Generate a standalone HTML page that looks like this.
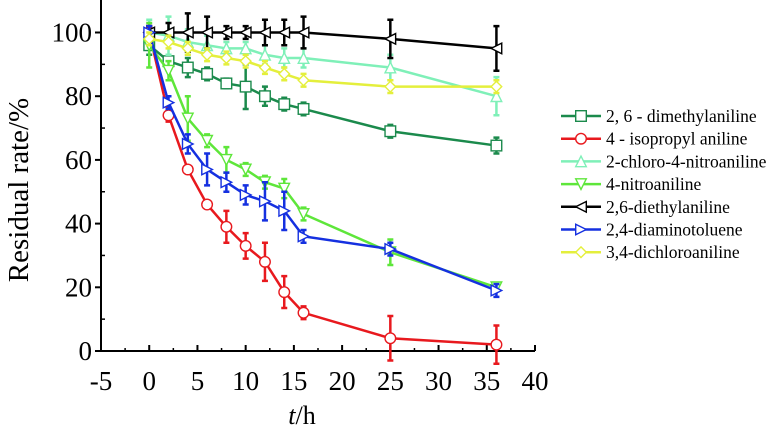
<!DOCTYPE html>
<html><head><meta charset="utf-8"><style>
html,body{margin:0;padding:0;background:#fff;}
svg text{font-family:"Liberation Serif",serif;}
</style></head><body>
<svg id="chart" width="771" height="431" viewBox="0 0 771 431" xmlns="http://www.w3.org/2000/svg">
<g id="axes"></g>
<g id="series"></g>
<g id="legend"></g>
<text transform="translate(28,190) rotate(-90)" text-anchor="middle" font-size="29">Residual rate/%</text>
<text x="302" y="424" text-anchor="middle" font-size="26"><tspan font-style="italic">t</tspan>/h</text>
</svg>
<script>
const times = [0,2,4,6,8,10,12,14,16,25,36];
const names = ["2, 6 - dimethylaniline","4 - isopropyl aniline","2-chloro-4-nitroaniline","4-nitroaniline","2,6-diethylaniline","2,4-diaminotoluene","3,4-dichloroaniline"];
const colors = ["#1b8a4c","#e8191e","#7ff0b8","#5ee63a","#000000","#1530e0","#e4ef3c"];
const markers = ["square","circle","up","down","left","right","diamond"];
const dimethyl = [96,91,89,87,84,83,80,77.5,76,69,64.5];
const isopropyl = [100,74,57,46,39,33,28,18.5,12,4,2];
const chloroNitro = [100,99,97,96,95,95,93,92,92,89,80];
const nitro = [96,88,73,66,60,57,53,51,43,31,20];
const diethyl = [100,100,100,100,100,100,100,100,100,98,95];
const diamino = [100,78,65,57,53,49,47,44,36,32,19];
const dichloro = [98,97,95,93,92,91,89,87,85,83,83];
const errDimethyl = [3,2,3,2,1.5,7,3,2,2,2,2.5];
const errIsopropyl = [2,2,1,1,5,4,6,5,2,7,6];
const errChloro = [4,6,4,3,2,2,3,3,3,4,6];
const errNitro = [7,3,7,2,4,2,2,3,2,4,1];
const errDiethyl = [2,3,6,5,2,2,4,4,5,6,7];
const errDiamino = [2,2,3,5,3,3,6,6,2,2,2];
const errDichloro = [2,2,2,2,2,2,2,2,2,2,2];
const seriesVals = [dimethyl,isopropyl,chloroNitro,nitro,diethyl,diamino,dichloro];
const seriesErr = [errDimethyl,errIsopropyl,errChloro,errNitro,errDiethyl,errDiamino,errDichloro];
const xTicks = [-5,0,5,10,15,20,25,30,35,40];
const yTicks = [0,20,40,60,80,100];

const NS="http://www.w3.org/2000/svg";
const X0=101, X1=535, Y0=351, Y100=32.5;
function xs(v){return X0+(v+5)/45*(X1-X0);}
function ys(v){return Y0-v/100*(Y0-Y100);}
function mk(tag,attrs,parent){const e=document.createElementNS(NS,tag);for(const k in attrs)e.setAttribute(k,attrs[k]);parent.appendChild(e);return e;}

const axes=document.getElementById('axes');
let a=mk('line',{x1:X0,y1:0,x2:X0,y2:Y0,stroke:'#000','stroke-width':2},axes);


a=mk('line',{x1:X0,y1:Y0,x2:X1,y2:Y0,stroke:'#000','stroke-width':2},axes);


xTicks.forEach((t,i)=>{
  mk('line',{x1:xs(t),y1:Y0,x2:xs(t),y2:Y0-6,stroke:'#000','stroke-width':2},axes);
  if(i<xTicks.length-1) mk('line',{x1:xs(t+2.5),y1:Y0,x2:xs(t+2.5),y2:Y0-3,stroke:'#000','stroke-width':1.5},axes);
  const tx=mk('text',{x:xs(t),y:390,'text-anchor':'middle','font-size':27},axes);
  tx.textContent=t;
  
  
});
yTicks.forEach((t,i)=>{
  mk('line',{x1:X0-6,y1:ys(t),x2:X0,y2:ys(t),stroke:'#000','stroke-width':2},axes);
  if(i<yTicks.length-1) mk('line',{x1:X0,y1:ys(t+10),x2:X0+4,y2:ys(t+10),stroke:'#000','stroke-width':1.5},axes);
  const tx=mk('text',{x:92,y:ys(t)+9,'text-anchor':'end','font-size':27},axes);
  tx.textContent=t;
  
  
});

function marker(type,cx,cy,color,parent){
  const s=5.3, st={fill:'#fff',stroke:color,'stroke-width':1.4};
  let p;
  if(type==='square') p=mk('rect',Object.assign({x:cx-s,y:cy-s,width:2*s,height:2*s},st),parent);
  else if(type==='circle') p=mk('circle',Object.assign({cx:cx,cy:cy,r:s},st),parent);
  else {
    let pts;
    if(type==='up') pts=[[cx,cy-s],[cx+s,cy+s],[cx-s,cy+s]];
    else if(type==='down') pts=[[cx-s,cy-s],[cx+s,cy-s],[cx,cy+s]];
    else if(type==='left') pts=[[cx-s,cy],[cx+s,cy-s],[cx+s,cy+s]];
    else if(type==='right') pts=[[cx+s,cy],[cx-s,cy-s],[cx-s,cy+s]];
    else pts=[[cx,cy-s],[cx+s,cy],[cx,cy+s],[cx-s,cy]];
    p=mk('polygon',Object.assign({points:pts.map(q=>q.join(',')).join(' ')},st),parent);
  }
  return p;
}

const sg=document.getElementById('series');
seriesVals.forEach((vals,si)=>{
  const g=mk('g',{},sg);
  
  
  const c=colors[si];
  const errs=seriesErr[si];
  vals.forEach((v,i)=>{
    const x=xs(times[i]), e=errs[i];
    const eb=mk('path',{d:`M${x},${ys(v+e)}V${ys(v-e)}M${x-3},${ys(v+e)}H${x+3}M${x-3},${ys(v-e)}H${x+3}`,stroke:c,'stroke-width':2.5,fill:'none'},g);
    
    
  });
  const ln=mk('polyline',{points:vals.map((v,i)=>xs(times[i])+','+ys(v)).join(' '),fill:'none',stroke:c,'stroke-width':2.5},g);
  
  
  vals.forEach((v,i)=>{
    const m=marker(markers[si],xs(times[i]),ys(v),c,g);
    
    
  });
});

const lg=document.getElementById('legend');
names.forEach((n,i)=>{
  const y=116+i*22.7;
  const g=mk('g',{},lg);
  
  
  mk('line',{x1:561,y1:y,x2:601,y2:y,stroke:colors[i],'stroke-width':2.5},g);
  marker(markers[i],581,y,colors[i],g);
  const t=mk('text',{x:606,y:y+6,'font-size':17.5},g);
  t.textContent=n;
});
</script>
</body></html>
